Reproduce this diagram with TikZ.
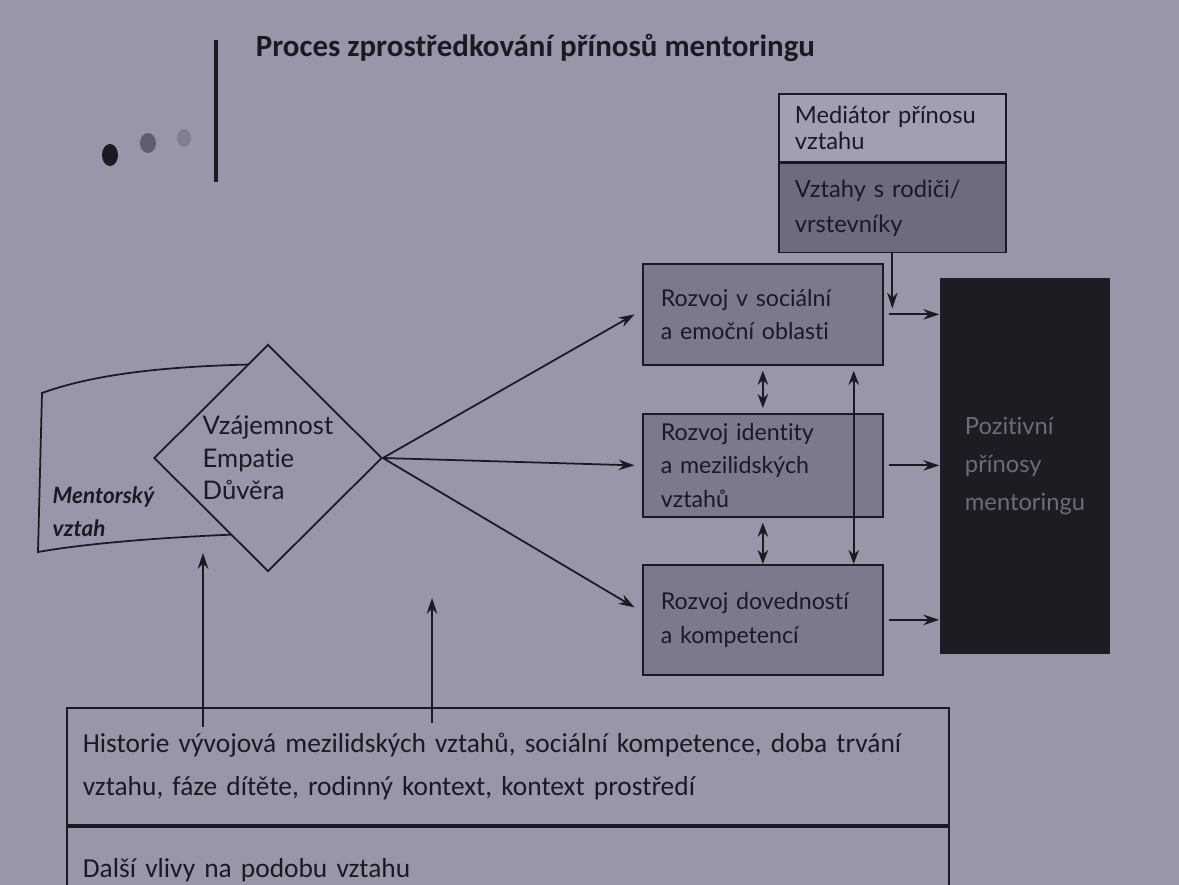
\documentclass[tikz,border=0pt]{standalone}
\usepackage{fontspec}
\setmainfont{Lato}[Ligatures=NoCommon]
\newfontfamily\calfont{Carlito}
\usetikzlibrary{arrows.meta, positioning, shapes.geometric, calc}
\definecolor{cpaper}{HTML}{9896A8}
\definecolor{cpaperlt}{HTML}{A19FB1}
\definecolor{cbox}{HTML}{7B798B}
\definecolor{cmed}{HTML}{6D6B7D}
\definecolor{cdark}{HTML}{1D1C22}
\definecolor{cfaint}{HTML}{6C6B7A}
\definecolor{cink}{HTML}{1A1A22}
\definecolor{cdotmid}{HTML}{5F5D6E}
\definecolor{cdotlt}{HTML}{807E90}
\tikzset{
  every picture/.style={line width=1pt, color=cink},
  rbox/.style={draw, fill=cbox, anchor=north west, minimum width=4.8cm, text width=4.08cm, inner xsep=0.34cm, align=left, font=\fontsize{13.2}{19}\selectfont},
  medbox/.style={draw, fill=#1, anchor=north west, minimum width=4.54cm, text width=3.9cm, inner xsep=0.32cm, align=left},
  medbox/.default=cmed,
  infobox/.style={draw, fill=cpaper, anchor=north west, minimum width=17.64cm, text width=17cm, inner xsep=0.32cm, align=left, font=\calfont\fontsize{15.6}{24.5}\selectfont},
  arrow/.style={-{Stealth[length=9pt, width=6pt]}},
  dblarrow/.style={{Stealth[length=8pt, width=6pt]}-{Stealth[length=8pt, width=6pt]}},
  title/.style={font=\calfont\bfseries\fontsize{17.6}{20}\selectfont, inner sep=0pt},
}

\begin{document}
\begin{tikzpicture}[x=0.02cm, y=-0.02cm]
  \useasboundingbox (0,0) rectangle (1179,885);
  \clip (0,0) rectangle (1179,885);
  \fill[cpaper] (0,0) rectangle (1179,885);
  % title with bar and dots
  \node[title, anchor=base west] (title) at (255,57) {Proces zprostředkování přínosů mentoringu};
  \draw[line width=2.2pt] (216,40) -- (216,182);
  \fill[cink] (110,155) ellipse [x radius=8, y radius=11];
  \fill[cdotmid] (148,143) ellipse [x radius=8, y radius=10];
  \fill[cdotlt] (184,138) ellipse [x radius=7, y radius=9];
  % mediator
  \node[medbox=cpaperlt, minimum height=1.36cm, font=\fontsize{13.5}{15}\selectfont] (medtop) at (778,93) {Mediátor přínosu\\vztahu};
  \node[medbox, minimum height=1.78cm, font=\fontsize{13.5}{20}\selectfont] (medbot) at (medtop.south west) {Vztahy s rodiči/\\vrstevníky};
  % development boxes
  \node[rbox, minimum height=2.02cm] (b1) at (642,263) {Rozvoj v sociální\\a emoční oblasti};
  \node[rbox, minimum height=2.06cm] (b2) at (642,413) {Rozvoj identity\\a mezilidských\\vztahů};
  \node[rbox, minimum height=2.2cm] (b3) at (642,564) {Rozvoj dovedností\\a kompetencí};
  \node[fill=cdark, text=cfaint, minimum width=3.4cm, minimum height=7.54cm, align=left, font=\fontsize{13.5}{21.6}\selectfont] (pos) at (1025,466) {Pozitivní\\přínosy\\mentoringu};
  % mentoring relationship
  \draw[fill=cpaper] (42,393) .. controls (100,372) and (180,365) .. (280,364) -- (280,533) .. controls (200,535) and (100,541) .. (38,552) -- cycle;
  \node[anchor=west, align=left, font=\bfseries\itshape\fontsize{12.8}{18.8}\selectfont] (mvlabel) at (46,512) {Mentorský\\vztah};
  \node[diamond, draw, fill=cpaper, minimum width=4.56cm, minimum height=4.54cm, inner sep=0pt, align=left, font=\fontsize{14.6}{18.5}\selectfont] (dia) at (268,458) {Vzájemnost\\Empatie\\Důvěra};
  % influences
  \node[infobox, minimum height=2.34cm] (hist) at (66,707) {Historie vývojová mezilidských vztahů, sociální kompetence, doba trvání\\vztahu, fáze dítěte, rodinný kontext, kontext prostředí};
  \node[infobox, minimum height=1.76cm] (dalsi) at (hist.south west) {Další vlivy na podobu vztahu};
  \coordinate (mvtip) at (203,553);
  \coordinate (inftip) at (432,598);
  \coordinate (medtip) at ($(medbot.south)+(0,55)$);
  % connectors
  \draw[arrow] (dia.east) -- ([xshift=-1.5mm]b1.west);
  \draw[arrow] (dia.east) -- ([xshift=-1.5mm]b2.west);
  \draw[arrow] (dia.east) -- ([xshift=-1.5mm, yshift=2.5mm]b3.west);
  \draw[arrow] ([xshift=1mm]b1.east) -- (b1.east -| pos.west);
  \draw[arrow] ([xshift=1mm]b2.east) -- (b2.east -| pos.west);
  \draw[arrow] ([xshift=1mm]b3.east) -- (b3.east -| pos.west);
  \draw[arrow] (medbot.south) -- (medtip);
  \draw[dblarrow] ([yshift=-1mm]b1.south) -- ([yshift=1mm]b2.north);
  \draw[dblarrow] ([yshift=-1mm]b2.south) -- (b3.north);
  \draw[dblarrow] ([xshift=-0.6cm, yshift=-1mm]b1.south east) -- ([xshift=-0.6cm]b3.north east);
  \draw[arrow] ($(hist.north -| mvtip)+(0,20)$) -- (mvtip);
  \draw[arrow] ($(hist.north -| inftip)+(0,16)$) -- (inftip);
\end{tikzpicture}
\end{document}
